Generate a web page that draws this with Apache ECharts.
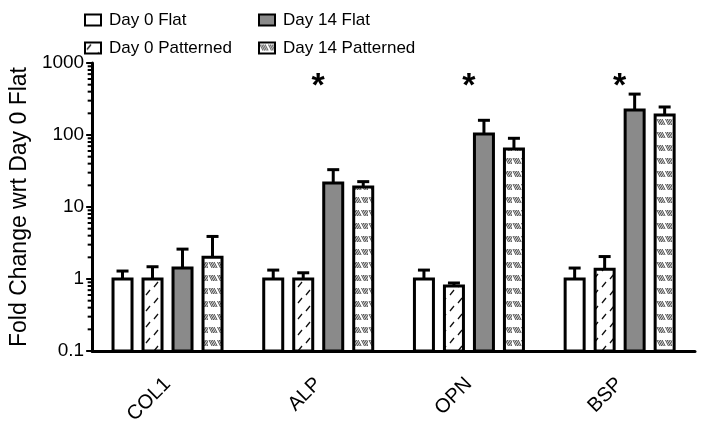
<!DOCTYPE html>
<html>
<head>
<meta charset="utf-8">
<script src="https://cdn.jsdelivr.net/npm/echarts@6/dist/echarts.min.js"></script>
<style>html,body{margin:0;padding:0;background:#fff}#c{width:701px;height:428px}</style>
</head>
<body>
<div id="c"></div>
<script>
// ---- data ----
const categories = ['COL1', 'ALP', 'OPN', 'BSP'];
const seriesNames = ['Day 0 Flat', 'Day 0 Patterned', 'Day 14 Flat', 'Day 14 Patterned'];
const day0Flat = [1.0, 1.0, 1.0, 1.0];
const day0FlatErr = [1.29, 1.33, 1.33, 1.42];
const day0Pat = [1.0, 1.0, 0.80, 1.37];
const day0PatErr = [1.48, 1.22, 0.88, 2.05];
const day14Flat = [1.42, 21.5, 103, 222];
const day14FlatErr = [2.6, 33, 160, 370];
const day14Pat = [2.0, 19, 64, 190];
const day14PatErr = [3.9, 22.5, 90, 245];
const yMin = 0.1, yMax = 1000;
const yTickLabels = ['0.1', '1', '10', '100', '1000'];
const minorTickValues = [0.2,0.3,0.4,0.5,0.6,0.7,0.8,0.9, 2,3,4,5,6,7,8,9, 20,30,40,50,60,70,80,90, 200,300,400,500,600,700,800,900];
const significant = ['ALP', 'OPN', 'BSP'];
const sigLevel = 470;

// ---- patterns ----
function makePattern(kind) {
  const c = document.createElement('canvas');
  const ctx = c.getContext('2d');
  if (kind === 'slash') {
    c.width = 16; c.height = 16;
    ctx.fillStyle = '#fff'; ctx.fillRect(0, 0, 16, 16);
    ctx.strokeStyle = '#111'; ctx.lineWidth = 1.3;
    ctx.beginPath();
    ctx.moveTo(2, 7); ctx.lineTo(6, 2);
    ctx.moveTo(10, 15); ctx.lineTo(14, 10);
    ctx.stroke();
  } else {
    c.width = 16; c.height = 13;
    ctx.fillStyle = '#fff'; ctx.fillRect(0, 0, 16, 13);
    ctx.strokeStyle = '#4a4a4a'; ctx.lineWidth = 1;
    ctx.beginPath();
    for (let k = 0; k < 4; k++) {
      ctx.moveTo(1 + k * 1.7, 2); ctx.lineTo(4 + k * 1.7, 8);
      ctx.moveTo(9.5 + k * 1.7, 2); ctx.lineTo(12.5 + k * 1.7, 8);
    }
    ctx.stroke();
  }
  return { image: c, repeat: 'repeat' };
}
const fills = ['#ffffff', makePattern('slash'), '#8a8a8a', makePattern('hatch')];
const values = [day0Flat, day0Pat, day14Flat, day14Pat];
const errors = [day0FlatErr, day0PatErr, day14FlatErr, day14PatErr];
const offsets = [-45, -15, 15, 45];
const barW = 19;

function barRender(si) {
  return function (params, api) {
    const ci = api.value(0);
    const top = api.coord([ci, api.value(1)]);
    const base = api.coord([ci, yMin]);
    const ep = api.coord([ci, api.value(2)]);
    const x = top[0] + offsets[si];
    return {
      type: 'group',
      children: [
        { type: 'line', shape: { x1: x, y1: top[1], x2: x, y2: ep[1] }, style: { stroke: '#000', lineWidth: 3 } },
        { type: 'line', shape: { x1: x - 6, y1: ep[1], x2: x + 6, y2: ep[1] }, style: { stroke: '#000', lineWidth: 3 } },
        { type: 'rect', shape: { x: x - barW / 2, y: top[1], width: barW, height: base[1] - top[1] },
          style: { fill: fills[si], stroke: '#000', lineWidth: 3 } }
      ]
    };
  };
}

const font = "'Liberation Sans', Arial, sans-serif";
const series = seriesNames.map((name, si) => ({
  name: name,
  type: 'custom',
  renderItem: barRender(si),
  itemStyle: { color: fills[si], borderColor: '#000', borderWidth: 3 },
  encode: { x: 0, y: 1 },
  data: categories.map((c, i) => [i, values[si][i], errors[si][i]]),
  z: 3
}));

// minor ticks on log axis
series.push({
  type: 'custom',
  silent: true,
  clip: false,
  renderItem: function (params, api) {
    const p = api.coord([0, api.value(0)]);
    const x0 = params.coordSys.x;
    return { type: 'line', shape: { x1: x0 - 4.5, y1: p[1], x2: x0, y2: p[1] }, style: { stroke: '#000', lineWidth: 2 } };
  },
  encode: { y: 0 },
  data: minorTickValues.map(v => [v]),
  z: 4
});

// significance asterisks
series.push({
  type: 'custom',
  silent: true,
  clip: false,
  renderItem: function (params, api) {
    const p = api.coord([api.value(0), api.value(1)]);
    return { type: 'text', x: p[0], y: p[1], style: { text: '*', font: 'bold 34px ' + font, fill: '#000', align: 'center', verticalAlign: 'middle' } };
  },
  encode: { x: 0, y: 1 },
  data: significant.map(c => [categories.indexOf(c), sigLevel]),
  z: 5
});

const legendCommon = {
  orient: 'vertical', top: 6, itemWidth: 16, itemHeight: 11, itemGap: 10, icon: 'rect',
  selectedMode: false,
  textStyle: { fontSize: 17, fontFamily: font, color: '#000', lineHeight: 18, padding: [0, 0, 0, 3] }
};

const chart = echarts.init(document.getElementById('c'), null, { renderer: 'canvas' });
chart.setOption({
  animation: false,
  backgroundColor: '#fff',
  legend: [
    Object.assign({ left: 79, data: [seriesNames[0], seriesNames[1]] }, legendCommon),
    Object.assign({ left: 253, data: [seriesNames[2], seriesNames[3]] }, legendCommon)
  ],
  grid: { left: 90, right: 6, top: 63, bottom: 77, containLabel: false },
  xAxis: {
    type: 'category',
    data: categories,
    axisLine: { lineStyle: { color: '#000', width: 3 } },
    axisTick: { alignWithLabel: true, length: 5, lineStyle: { color: '#000', width: 3 } },
    axisLabel: { rotate: 45, fontSize: 20, fontFamily: font, color: '#000', margin: 30 }
  },
  yAxis: {
    type: 'log',
    logBase: 10,
    min: yMin,
    max: yMax,
    name: 'Fold Change wrt Day 0 Flat',
    nameLocation: 'middle',
    nameGap: 60,
    nameTextStyle: { fontSize: 23, fontFamily: font, color: '#000' },
    axisLine: { show: true, lineStyle: { color: '#000', width: 3 } },
    axisTick: { show: true, length: 6, lineStyle: { color: '#000', width: 2 } },
    splitLine: { show: false },
    axisLabel: {
      fontSize: 19, fontFamily: font, color: '#000', margin: 8,
      formatter: function (v) {
        const idx = Math.round(Math.log10(v) - Math.log10(yMin));
        return yTickLabels[idx] !== undefined ? yTickLabels[idx] : '';
      }
    }
  },
  series: series
});
</script>
</body>
</html>
